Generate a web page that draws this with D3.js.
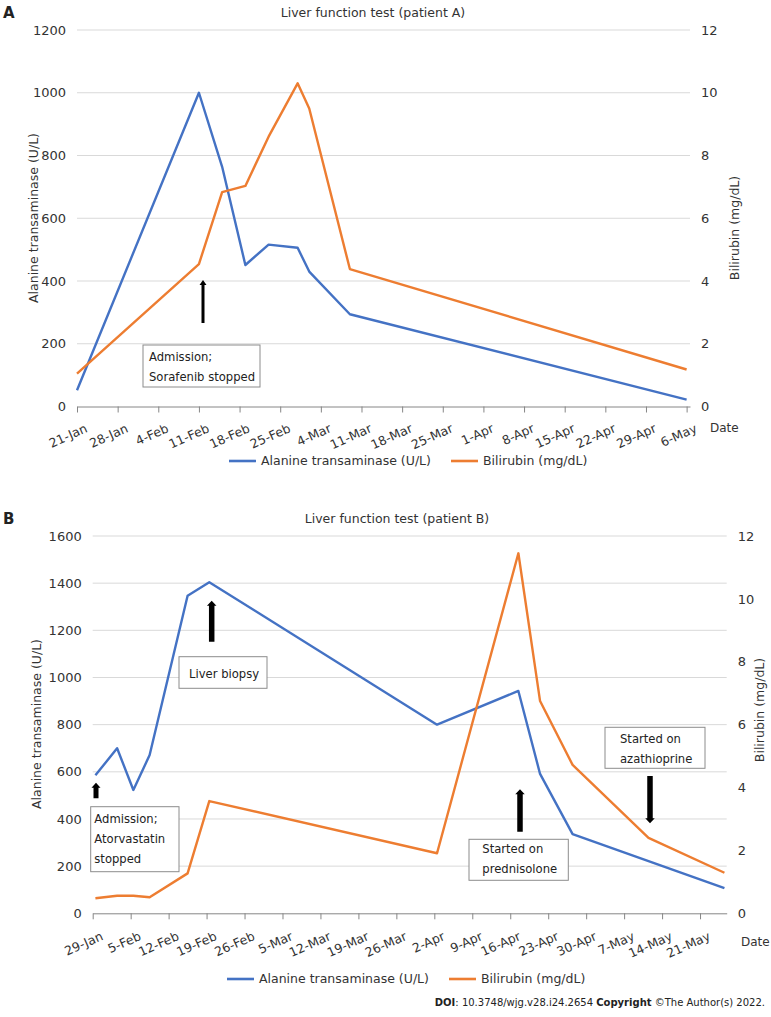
<!DOCTYPE html>
<html>
<head>
<meta charset="utf-8">
<script src="https://cdn.jsdelivr.net/npm/d3@7"></script>
<style>
  body { margin: 0; background: #fff; }
  svg { display: block; font-family: "DejaVu Sans", Verdana, sans-serif; }
</style>
</head>
<body>
<svg id="chart" width="771" height="1017"></svg>
<script>
// ---- patient A ----
const datesA = ["21-Jan", "11-Feb", "15-Feb", "19-Feb", "23-Feb", "28-Feb", "2-Mar", "9-Mar", "6-May"];
const altA = [52, 1000, 764, 451, 516, 506, 430, 294, 22];
const bilA = [1.05, 4.54, 6.83, 7.03, 8.6, 10.3, 9.5, 4.38, 1.18];
const xTicksA = ["21-Jan", "28-Jan", "4-Feb", "11-Feb", "18-Feb", "25-Feb", "4-Mar", "11-Mar",
  "18-Mar", "25-Mar", "1-Apr", "8-Apr", "15-Apr", "22-Apr", "29-Apr", "6-May"];
const yTicksA = [0, 200, 400, 600, 800, 1000, 1200];

// ---- patient B ----
const altDatesB = ["29-Jan", "2-Feb", "5-Feb", "8-Feb", "15-Feb", "19-Feb", "2-Apr", "17-Apr", "21-Apr", "27-Apr", "25-May"];
const altB = [585, 700, 523, 671, 1347, 1404, 800, 943, 591, 336, 107];
const bilDatesB = ["29-Jan", "2-Feb", "5-Feb", "8-Feb", "15-Feb", "19-Feb", "2-Apr", "17-Apr", "21-Apr", "27-Apr", "11-May", "25-May"];
const bilB = [0.48, 0.56, 0.56, 0.51, 1.27, 3.57, 1.91, 11.45, 6.75, 4.72, 2.4, 1.29];
const xTicksB = ["29-Jan", "5-Feb", "12-Feb", "19-Feb", "26-Feb", "5-Mar", "12-Mar", "19-Mar",
  "26-Mar", "2-Apr", "9-Apr", "16-Apr", "23-Apr", "30-Apr", "7-May", "14-May", "21-May"];
const yTicksB = [0, 200, 400, 600, 800, 1000, 1200, 1400, 1600];

const y2Ticks = [0, 2, 4, 6, 8, 10, 12];
const seriesNames = ["Alanine transaminase (U/L)", "Bilirubin (mg/dL)"];

const parseDay = d3.timeParse("%d-%b-%Y");
const parse = s => parseDay(s + "-2021");
const fmt = d3.timeFormat("%-d-%b");

const blue = "#4472c4", orange = "#ed7d31";
const svg = d3.select("#chart");
svg.append("rect").attr("width", 771).attr("height", 1017).attr("fill", "#fff");

function arrowPath(x, tail, tip, w) {
  const dir = Math.sign(tip - tail), hl = 5, hw = w / 2 + 2, yb = tip - dir * hl;
  return `M${x - w / 2},${tail}L${x - w / 2},${yb}L${x - hw},${yb}L${x},${tip}L${x + hw},${yb}L${x + w / 2},${yb}L${x + w / 2},${tail}Z`;
}

function drawPanel(p) {
  const g = svg.append("g");
  const x = d3.scaleTime().domain(p.domain).range([p.left, p.right]);
  const y = d3.scaleLinear().domain([0, p.yMax]).range([p.bottom, p.top]);
  const y2 = d3.scaleLinear().domain([0, 12]).range([p.bottom, p.top]);
  const px = d => x(d3.timeHour.offset(d, p.shift));

  // gridlines
  g.selectAll(".grid").data(p.yTicks.slice(1)).join("line")
    .attr("x1", p.left).attr("x2", p.right)
    .attr("y1", d => y(d)).attr("y2", d => y(d))
    .attr("stroke", "#d9d9d9").attr("stroke-width", 1);

  // left axis labels
  const ya = g.append("g").attr("transform", `translate(${p.left},0)`)
    .call(d3.axisLeft(y).tickValues(p.yTicks).tickFormat(d3.format("d")).tickSize(0).tickPadding(11));
  ya.select(".domain").remove();
  ya.selectAll("text").attr("font-size", 13).attr("font-family", "DejaVu Sans").attr("fill", "#333");

  // right axis labels
  const yb = g.append("g").attr("transform", `translate(${p.right},0)`)
    .call(d3.axisRight(y2).tickValues(y2Ticks).tickSize(0).tickPadding(11));
  yb.select(".domain").remove();
  yb.selectAll("text").attr("font-size", 13).attr("font-family", "DejaVu Sans").attr("fill", "#333");

  // x axis
  const xa = g.append("g").attr("transform", `translate(0,${p.bottom})`)
    .call(d3.axisBottom(x).tickValues(p.xTicks.map(parse)).tickFormat(fmt).tickSize(6).tickSizeOuter(0));
  xa.select(".domain").attr("stroke", "#868686");
  xa.selectAll(".tick line").attr("stroke", "#868686");
  xa.selectAll("text")
    .attr("x", 0).attr("y", 0).attr("dy", "0.35em")
    .attr("text-anchor", "end")
    .attr("transform", `translate(${p.lblDx},${p.lblDy}) rotate(-24)`)
    .attr("font-size", 12.5).attr("font-family", "DejaVu Sans").attr("fill", "#333");

  // lines
  const line = d3.line().x(d => px(d[0])).y(d => d[2](d[1]));
  const altPts = p.altDates.map((d, i) => [parse(d), p.alt[i], y]);
  const bilPts = p.bilDates.map((d, i) => [parse(d), p.bil[i], y2]);
  g.append("path").datum(altPts).attr("d", line).attr("fill", "none")
    .attr("stroke", blue).attr("stroke-width", 2.4).attr("stroke-linejoin", "round");
  g.append("path").datum(bilPts).attr("d", line).attr("fill", "none")
    .attr("stroke", orange).attr("stroke-width", 2.4).attr("stroke-linejoin", "round");

  // titles
  g.append("text").attr("x", p.titleX).attr("y", p.top - 17).attr("dy", "0.35em")
    .attr("text-anchor", "middle").attr("font-size", 12.5).attr("fill", "#333").text(p.title);
  g.append("text").attr("x", 3).attr("y", p.top - 17).attr("dy", "0.35em")
    .attr("font-size", 15).attr("font-weight", "bold").attr("fill", "#222").text(p.tag);
  g.append("text").attr("transform", `translate(${p.yTitleX},${p.yTitleY}) rotate(-90)`)
    .attr("dy", "0.35em").attr("text-anchor", "middle").attr("font-size", 12.5).attr("fill", "#333")
    .text(seriesNames[0]);
  g.append("text").attr("transform", `translate(${p.y2TitleX},${p.y2TitleY}) rotate(-90)`)
    .attr("dy", "0.35em").attr("text-anchor", "middle").attr("font-size", 12.5).attr("fill", "#333")
    .text(seriesNames[1]);
  g.append("text").attr("x", p.dateX).attr("y", p.bottom + p.dateDy).attr("dy", "0.35em")
    .attr("font-size", 12).attr("fill", "#333").text("Date");

  // legend
  const leg = g.append("g").attr("transform", `translate(0,${p.legendY})`);
  [[p.legendX[0], blue], [p.legendX[1], orange]].forEach(([lx, c], i) => {
    leg.append("line").attr("x1", lx).attr("x2", lx + 27).attr("stroke", c).attr("stroke-width", 2.6);
    leg.append("text").attr("x", lx + 32).attr("dy", "0.35em").attr("font-size", 12.5)
      .attr("fill", "#333").text(seriesNames[i]);
  });

  // annotations
  p.boxes.forEach(b => {
    g.append("rect").attr("x", b.x).attr("y", b.y).attr("width", b.w).attr("height", b.h)
      .attr("fill", "#fff").attr("stroke", "#8c8c8c").attr("stroke-width", 1);
    b.lines.forEach((t, i) => {
      g.append("text").attr("x", b.tx).attr("y", b.ty + i * 20).attr("dy", "0.35em")
        .attr("font-size", 11.6).attr("fill", "#222").text(t);
    });
  });
  p.arrows.forEach(a => {
    g.append("path").attr("d", arrowPath(a.x, a.tail, a.tip, a.w)).attr("fill", "#000");
  });
}

drawPanel({
  tag: "A", title: "Liver function test (patient A)", titleX: 373,
  left: 77, right: 690, top: 30, bottom: 406.5, yMax: 1200,
  domain: [parse("21-Jan"), d3.timeHour.offset(parse("6-May"), 14)], shift: 0,
  xTicks: xTicksA, yTicks: yTicksA,
  altDates: datesA, alt: altA, bilDates: datesA, bil: bilA,
  lblDx: 9, lblDy: 21,
  yTitleX: 34, yTitleY: 218, y2TitleX: 735, y2TitleY: 228,
  dateX: 710, dateDy: 21, legendY: 461, legendX: [229, 451],
  boxes: [{ x: 143, y: 345, w: 117, h: 42, tx: 149, ty: 357, lines: ["Admission;", "Sorafenib stopped"] }],
  arrows: [{ x: 203, tail: 323, tip: 280, w: 3 }]
});

drawPanel({
  tag: "B", title: "Liver function test (patient B)", titleX: 397,
  left: 92.7, right: 726.7, top: 536, bottom: 913.3, yMax: 1600,
  domain: [parse("29-Jan"), d3.timeHour.offset(parse("25-May"), 22)], shift: 12,
  xTicks: xTicksB, yTicks: yTicksB,
  altDates: altDatesB, alt: altB, bilDates: bilDatesB, bil: bilB,
  lblDx: 9, lblDy: 22,
  yTitleX: 37, yTitleY: 724, y2TitleX: 760, y2TitleY: 710,
  dateX: 741, dateDy: 28, legendY: 979, legendX: [227, 449],
  boxes: [
    { x: 90.7, y: 806.7, w: 88.3, h: 65, tx: 94.3, ty: 819.3, lines: ["Admission;", "Atorvastatin", "stopped"] },
    { x: 179, y: 656.7, w: 88, h: 31.6, tx: 189, ty: 674, lines: ["Liver biopsy"] },
    { x: 469, y: 839.3, w: 99.3, h: 41, tx: 482.3, ty: 849.3, lines: ["Started on", "prednisolone"] },
    { x: 605, y: 727.3, w: 100, h: 41, tx: 620, ty: 739.3, lines: ["Started on", "azathioprine"] }
  ],
  arrows: [
    { x: 96, tail: 798.3, tip: 782.7, w: 5 },
    { x: 211.7, tail: 641.7, tip: 600.7, w: 5.5 },
    { x: 520, tail: 831.7, tip: 789.3, w: 5.5 },
    { x: 650, tail: 776, tip: 823.3, w: 5.5 }
  ]
});

// footer
const foot = svg.append("text").attr("x", 765).attr("y", 1006).attr("text-anchor", "end")
  .attr("font-size", 10).attr("fill", "#222");
foot.append("tspan").attr("font-weight", "bold").text("DOI");
foot.append("tspan").text(": 10.3748/wjg.v28.i24.2654  ");
foot.append("tspan").attr("font-weight", "bold").text("Copyright");
foot.append("tspan").text(" \u00a9The Author(s) 2022.");
</script>
</body>
</html>
